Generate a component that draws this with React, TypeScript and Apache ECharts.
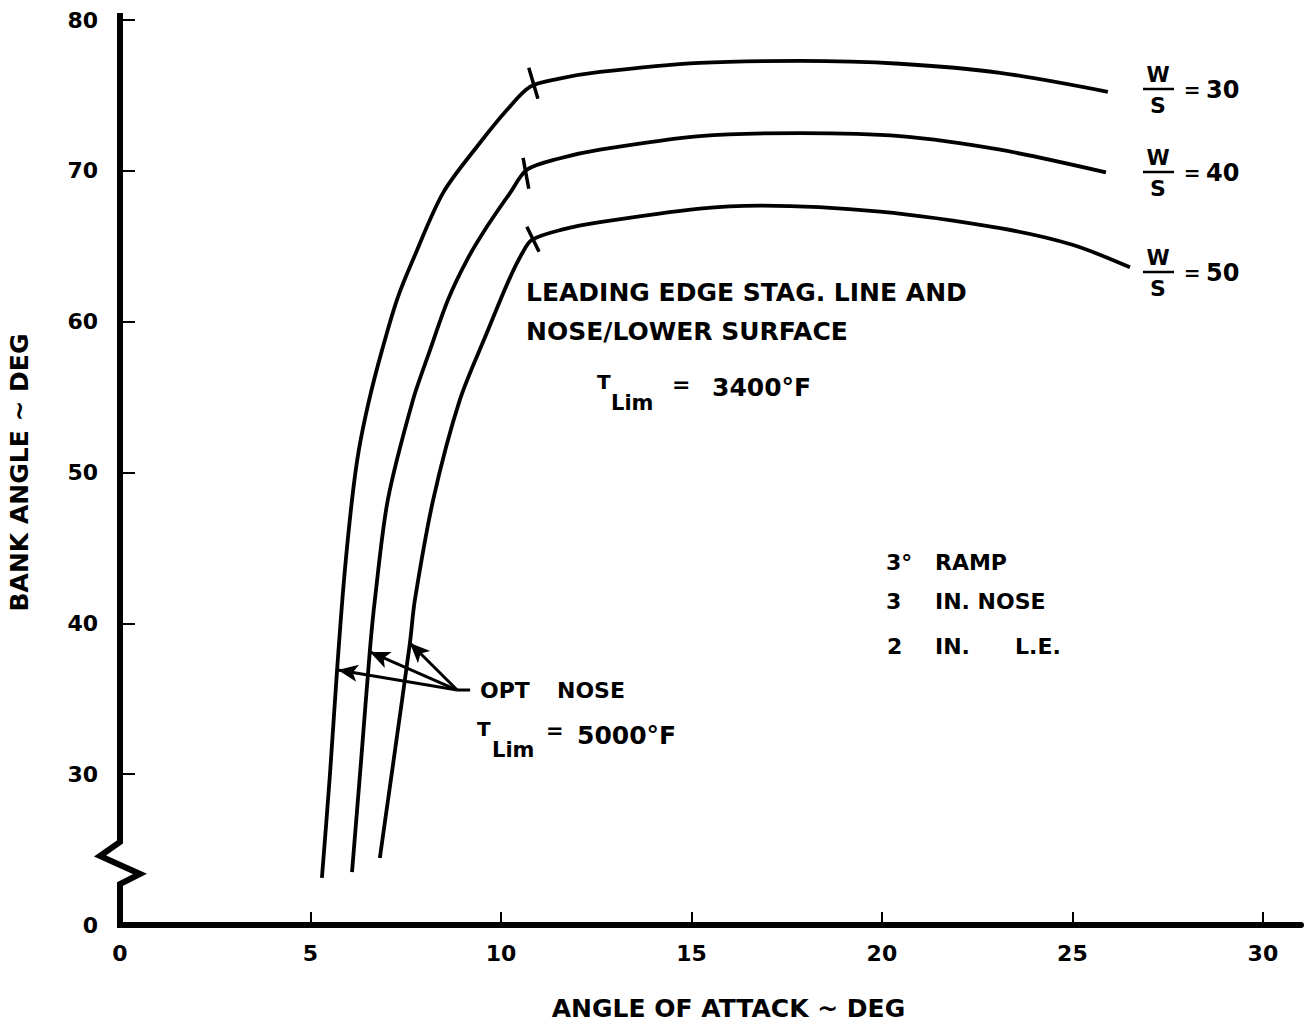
import React, { useEffect, useRef } from "react";
import * as echarts from "echarts";

// ---- data ----
const X_LABEL_VALUES = [0, 5, 10, 15, 20, 25, 30];
const X_TICK_VALUES = [5, 10, 15, 20, 25, 30];
const Y_TICK_VALUES = [20, 30, 40, 50, 60, 70, 80];
const Y_TICK_LABELS = ["0", "30", "40", "50", "60", "70", "80"];

// W/S = 30
const CURVE_30 = [
  [5.3, 23.12], [5.51, 29.95], [5.7, 36.98], [5.88, 42.88], [6.09, 48.18], [6.27, 51.5],
  [6.54, 54.81], [6.88, 58.13], [7.27, 61.45], [7.69, 64.1], [8.48, 68.54], [9.45, 71.86],
  [10.16, 74.05], [10.76, 75.57], [11.5, 76.1], [12.6, 76.56], [15.22, 77.16], [17.85, 77.29],
  [20.47, 77.1], [23.1, 76.5], [25.93, 75.24],
];
// W/S = 40
const CURVE_40 = [
  [6.09, 23.51], [6.33, 30.94], [6.56, 38.24], [6.69, 41.55], [7.03, 48.18], [7.69, 54.81],
  [8.14, 58.13], [8.61, 61.45], [9.11, 64.1], [9.63, 66.29], [10.24, 68.54], [10.68, 70.07],
  [11.5, 70.8], [12.6, 71.4], [15.22, 72.3], [17.85, 72.5], [20.47, 72.3], [23.1, 71.4],
  [25.88, 69.9],
];
// W/S = 50
const CURVE_50 = [
  [6.82, 24.44], [7.22, 31.6], [7.61, 38.7], [7.74, 41.55], [8.22, 48.18], [8.92, 54.81],
  [9.63, 59.26], [10.21, 62.77], [10.55, 64.5], [10.81, 65.42], [11.6, 66.1], [12.6, 66.6],
  [15.22, 67.5], [16.8, 67.7], [19.95, 67.3], [23.1, 66.2], [25.0, 65.1], [26.51, 63.6],
];
const CURVES = [CURVE_30, CURVE_40, CURVE_50];
const WS_VALUES = ["30", "40", "50"];

// short cross-marks on each curve at the bend
const CROSS_MARKS = [
  [[10.73, 76.83], [10.97, 74.78]],
  [[10.58, 70.86], [10.73, 68.81]],
  [[10.68, 66.29], [11.0, 64.63]],
];

// OPT NOSE leader lines: common origin and arrow tips on each curve
const LEADER_ORIGIN = [8.85, 35.58];
const LEADER_STUB_END = [9.19, 35.58];
const LEADER_TIPS = [[5.72, 36.91], [6.56, 38.1], [7.61, 38.7]];

const FONT = "DejaVu Sans";

export default function App() {
  const ref = useRef<HTMLDivElement>(null);

  useEffect(() => {
    if (!ref.current) return;
    const chart = echarts.init(ref.current, null, { renderer: "svg" });

    const curveSeries = CURVES.map((c, i) => ({
      type: "line",
      name: "W/S=" + WS_VALUES[i],
      data: c,
      showSymbol: false,
      symbol: "none",
      smooth: 0.3,
      lineStyle: { color: "#000", width: 3.8 },
      silent: true,
    }));

    const crossSeries = CROSS_MARKS.map((m) => ({
      type: "line",
      data: m,
      symbol: "none",
      lineStyle: { color: "#000", width: 3.5 },
      silent: true,
    }));

    const leaderSeries = {
      type: "line",
      data: [LEADER_ORIGIN, LEADER_STUB_END],
      symbol: "none",
      lineStyle: { color: "#000", width: 3 },
      silent: true,
      markLine: {
        silent: true,
        symbol: ["none", "arrow"],
        symbolSize: [13, 20],
        label: { show: false },
        lineStyle: { color: "#000", width: 3, type: "solid" },
        emphasis: { disabled: true },
        data: LEADER_TIPS.map((t) => [{ coord: LEADER_ORIGIN }, { coord: t }]),
      },
    };

    const option: any = {
      animation: false,
      backgroundColor: "#fff",
      grid: {
        left: 120,
        top: 20,
        width: 1181,
        height: 905,
        containLabel: false,
        outerBoundsMode: "none",
      },
      xAxis: {
        type: "value",
        min: 0,
        max: 31,
        interval: 5,
        name: "ANGLE OF ATTACK ~ DEG",
        nameLocation: "middle",
        nameGap: 71,
        nameTextStyle: {
          fontFamily: FONT,
          fontSize: 25,
          fontWeight: "bold",
          color: "#000",
          padding: [0, 0, 0, 36],
        },
        axisLine: { show: true, lineStyle: { color: "#000", width: 6 } },
        axisTick: {
          show: true,
          inside: true,
          length: 13,
          customValues: X_TICK_VALUES,
          lineStyle: { color: "#000", width: 2 },
        },
        axisLabel: {
          show: true,
          customValues: X_LABEL_VALUES,
          margin: 17,
          fontFamily: FONT,
          fontWeight: "bold",
          fontSize: 22,
          color: "#000",
          formatter: (v: number) => (X_LABEL_VALUES.includes(v) ? String(v) : ""),
        },
        splitLine: { show: false },
      },
      yAxis: {
        type: "value",
        min: 20,
        max: 80,
        interval: 10,
        name: "BANK ANGLE ~ DEG",
        nameLocation: "middle",
        nameGap: 88,
        nameTextStyle: { fontFamily: FONT, fontSize: 25, fontWeight: "bold", color: "#000" },
        axisLine: { show: false },
        axisTick: {
          show: true,
          inside: true,
          length: 15,
          lineStyle: { color: "#000", width: 2 },
        },
        axisLabel: {
          margin: 22,
          fontFamily: FONT,
          fontWeight: "bold",
          fontSize: 22,
          color: "#000",
          formatter: (v: number) => {
            const i = Y_TICK_VALUES.indexOf(v);
            return i >= 0 ? Y_TICK_LABELS[i] : "";
          },
        },
        splitLine: { show: false },
      },
      series: [...curveSeries, ...crossSeries, leaderSeries],
    };

    chart.setOption(option);

    // y axis drawn with a break (zig-zag) near the bottom
    const top = chart.convertToPixel({ gridIndex: 0 }, [0, 80]) as number[];
    const bot = chart.convertToPixel({ gridIndex: 0 }, [0, 20]) as number[];
    const X0 = top[0];
    const yTop = top[1] - 7;
    const yBot = bot[1] + 3;
    const zz = bot[1] - 83; // start of the zig-zag, relative to the axis bottom

    const txt = (
      x: number,
      y: number,
      text: string,
      size: number,
      align: string = "left"
    ) => ({
      type: "text",
      x,
      y,
      silent: true,
      style: {
        text,
        fontFamily: FONT,
        fontWeight: "bold",
        fontSize: size,
        fill: "#000",
        align,
        verticalAlign: "middle",
      },
    });

    const wsGroups: any[] = [];
    const wsY = [90, 173, 273];
    wsY.forEach((yc, i) => {
      wsGroups.push(txt(1158, yc - 15, "W", 21, "center"));
      wsGroups.push({
        type: "line",
        silent: true,
        shape: { x1: 1143, y1: yc - 1, x2: 1174, y2: yc - 1 },
        style: { stroke: "#000", lineWidth: 2.5 },
      });
      wsGroups.push(txt(1158, yc + 15, "S", 22, "center"));
      wsGroups.push(txt(1192, yc, "=", 20, "center"));
      wsGroups.push(txt(1206, yc, WS_VALUES[i], 24));
    });

    const graphic: any[] = [
      {
        type: "polyline",
        silent: true,
        shape: {
          points: [
            [X0, yTop],
            [X0, zz],
            [X0 - 20, zz + 14],
            [X0 + 20, zz + 32],
            [X0, zz + 42],
            [X0, yBot],
          ],
        },
        style: { stroke: "#000", lineWidth: 6, fill: null, lineJoin: "miter" },
      },
      txt(526, 292, "LEADING EDGE STAG. LINE AND", 25),
      txt(526, 331, "NOSE/LOWER SURFACE", 25),
      txt(597, 382, "T", 20),
      txt(611, 403, "Lim", 21),
      txt(672, 384, "=", 22),
      txt(712, 387, "3400°F", 25),
      txt(886, 562, "3°", 22),
      txt(935, 562, "RAMP", 22),
      txt(886, 601, "3", 22),
      txt(935, 601, "IN. NOSE", 22),
      txt(887, 646, "2", 22),
      txt(935, 646, "IN.", 22),
      txt(1015, 646, "L.E.", 22),
      txt(480, 690, "OPT", 22),
      txt(557, 690, "NOSE", 22),
      txt(477, 729, "T", 20),
      txt(492, 750, "Lim", 21),
      txt(546, 731, "=", 21),
      txt(577, 735, "5000°F", 25),
      ...wsGroups,
    ];

    chart.setOption({ graphic });

    return () => {
      chart.dispose();
    };
  }, []);

  return (
    <div
      ref={ref}
      style={{ position: "absolute", left: 0, top: 0, width: 1310, height: 1027, background: "#fff" }}
    />
  );
}
